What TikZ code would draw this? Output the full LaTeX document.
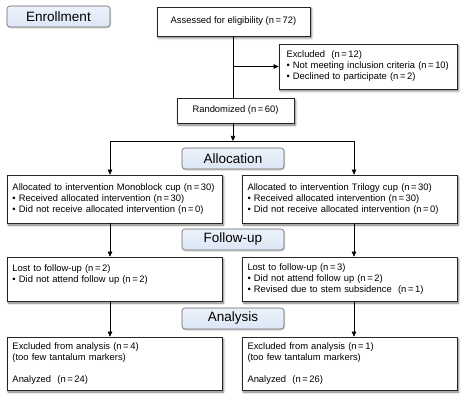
\documentclass[tikz,border=0pt]{standalone}
\usepackage{fontspec}
\setmainfont{Liberation Sans}
\usetikzlibrary{arrows.meta,shadows.blur}
\definecolor{stagetop}{RGB}{236,242,251}
\definecolor{stagebot}{RGB}{220,230,245}

\begin{document}
\begin{tikzpicture}[x=1pt,y=-1pt,line width=0.6pt,
    >={Triangle[length=5pt,width=4.5pt]},
    stage/.style={draw=black!60, rounded corners=3pt, top color=stagetop,
        bottom color=stagebot, minimum width=102pt, minimum height=21pt,
        inner sep=0pt, font=\fontsize{13.5}{15}\selectfont,
        blur shadow={shadow xshift=0.6pt, shadow yshift=-1pt, shadow blur radius=1.2pt, shadow opacity=25}},
    infobox/.style={draw=black!85, line width=0.7pt, fill=white, align=left, inner xsep=5.5pt, inner ysep=0pt,
        blur shadow={shadow xshift=1.4pt, shadow yshift=-2pt, shadow blur radius=2.2pt, shadow opacity=55},
        font=\fontsize{9.4}{11}\selectfont}]
    \useasboundingbox (0,0) rectangle (469,401);

    \begin{scope}
        \node[stage, minimum width=103pt] (enroll) at (58.5,16.5) {Enrollment};
        \node[stage] (alloclab) at (233,158.5) {Allocation};
        \node[stage] (followlab) at (233,239.5) {Follow-up};
        \node[stage] (analab) at (233,318.5) {Analysis};
    \end{scope}

    \begin{scope}[every node/.style={infobox}]
        \node[align=center, minimum width=153pt, minimum height=29pt] (assess) at (233.5,21.5)
            {Assessed for eligibility (n\,=\,72)};
        \node[inner xsep=7.5pt, text width=163pt, minimum height=45pt] (excl) at (368,66.5)
            {Excluded\ \ (n\,=\,12)\\
             • Not meeting inclusion criteria (n\,=\,10)\\
             • Declined to participate (n\,=\,2)};
        \node[align=center, minimum width=117pt, minimum height=25pt] (rand) at (235.5,110.5)
            {Randomized (n\,=\,60)};

        \node[text width=204pt, minimum height=48pt] (allocL) at (114.5,199)
            {Allocated to intervention Monoblock cup (n\,=\,30)\\
             • Received allocated intervention (n\,=\,30)\\
             • Did not receive allocated intervention (n\,=\,0)};
        \node[text width=204pt, minimum height=48pt] (allocR) at (349.5,199)
            {Allocated to intervention Trilogy cup (n\,=\,30)\\
             • Received allocated intervention (n\,=\,30)\\
             • Did not receive allocated intervention (n\,=\,0)};

        \node[text width=204pt, minimum height=44pt] (lostL) at (114.5,279)
            {Lost to follow-up (n\,=\,2)\\
             • Did not attend follow up (n\,=\,2)\\ \mbox{}};
        \node[text width=204pt, minimum height=44pt] (lostR) at (349.5,279)
            {Lost to follow-up (n\,=\,3)\\
             • Did not attend follow up (n\,=\,2)\\
             • Revised due to stem subsidence\ \ (n\,=\,1)};

        \node[text width=204pt, minimum height=53pt] (anaL) at (114.5,363.5)
            {Excluded from analysis (n\,=\,4)\\
             (too few tantalum markers)\\ \mbox{}\\
             Analyzed\ \ (n\,=\,24)};
        \node[text width=204pt, minimum height=53pt] (anaR) at (349.5,363.5)
            {Excluded from analysis (n\,=\,1)\\
             (too few tantalum markers)\\ \mbox{}\\
             Analyzed\ \ (n\,=\,26)};
    \end{scope}

    \coordinate (exsplit) at (assess.south |- excl.west);
    \coordinate (split) at (233,141);
    \coordinate (splitL) at (110,141);
    \coordinate (splitR) at (354,141);

    \begin{scope}
    \path [-] (assess.south) edge node {} (assess.south |- rand.north);
    \path [->] (exsplit) edge node {} (excl.west);
    \path [->] (rand.south -| split) edge node {} (split);
    \path [-] (splitL) edge node {} (splitR);
    \path [->] (splitL) edge node {} (allocL.north -| splitL);
    \path [->] (splitR) edge node {} (allocR.north -| splitR);
    \path [->] (allocL.south -| splitL) edge node {} (lostL.north -| splitL);
    \path [->] (allocR.south -| splitR) edge node {} (lostR.north -| splitR);
    \path [->] (lostL.south -| splitL) edge node {} (anaL.north -| splitL);
    \path [->] (lostR.south -| splitR) edge node {} (anaR.north -| splitR);
    \end{scope}

\end{tikzpicture}
\end{document}
